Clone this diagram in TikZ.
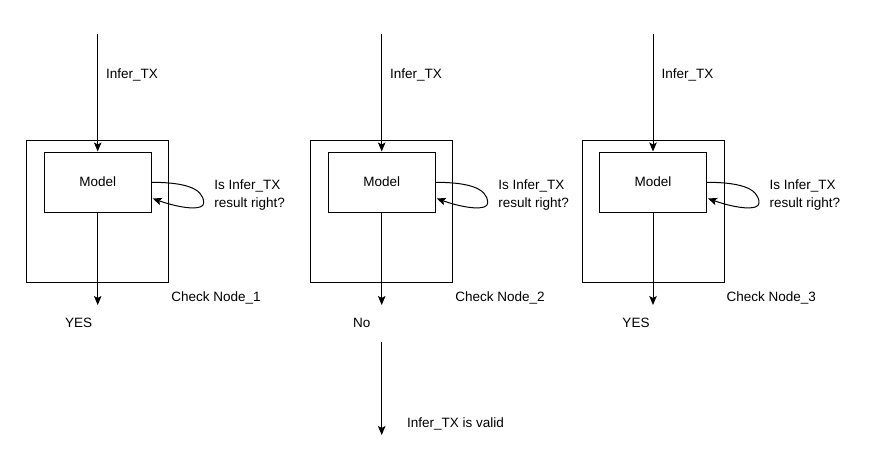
\documentclass[tikz,border=0pt]{standalone}
\usepackage{fontspec}
\setmainfont{Liberation Sans}
\usetikzlibrary{arrows.meta}
\begin{document}
\begin{tikzpicture}[x=1pt,y=-1pt,
  lbl/.style={font=\fontsize{13.5}{18}\selectfont, inner sep=0pt, text=black},
  outerbox/.style={draw=black, line width=1pt, minimum width=142pt, minimum height=142pt, inner sep=0pt},
  innerbox/.style={draw=black, line width=1pt, minimum width=107pt, minimum height=60pt, inner sep=0pt},
  arr/.style={line width=1pt, -{Stealth[length=9pt,width=7.5pt,inset=2pt]}}]
\useasboundingbox (0,0) rectangle (892,460);
\foreach \i/\lx/\res/\rdx in {1/97.7/YES/-19, 2/381.7/No/-20, 3/653/YES/-17} {
  \node[outerbox] (outer\i) at (\lx,211.7) {};
  \node[innerbox] (model\i) at (\lx,182) {};
  \node[lbl] (mtext\i) at (\lx,182) {Model};
  \coordinate (top\i) at (\lx,34);
  \coordinate (bot\i) at (\lx,305);
  \draw[arr] (top\i) -- (model\i.north);
  \draw[arr] (model\i.south) -- (bot\i);
  \coordinate (ls\i) at (\lx+53.5,182.3);
  \coordinate (lm\i) at (\lx+106,203);
  \coordinate (le\i) at (\lx+55,198.5);
  \draw[arr] (ls\i) .. controls +(30,0) and +(0,-16) .. (lm\i)
     .. controls +(0,8) and +(28,10) .. (le\i);
  \node[lbl, anchor=west] (in\i) at (\lx+8.3,75) {Infer\_TX};
  \node[lbl, anchor=west, align=left] (q\i) at (\lx+116.5,195) {Is Infer\_TX\\result right?};
  \node[lbl, anchor=west] (cn\i) at (\lx+73.5,298) {Check Node\_\i};
  \node[lbl] (res\i) at (\lx+\rdx,323) {\res};
}
\coordinate (vs) at (381.7,341.7);
\coordinate (ve) at (381.7,435);
\draw[arr] (vs) -- (ve);
\node[lbl, anchor=west] (valid) at (407,424) {Infer\_TX is valid};
\end{tikzpicture}
\end{document}
